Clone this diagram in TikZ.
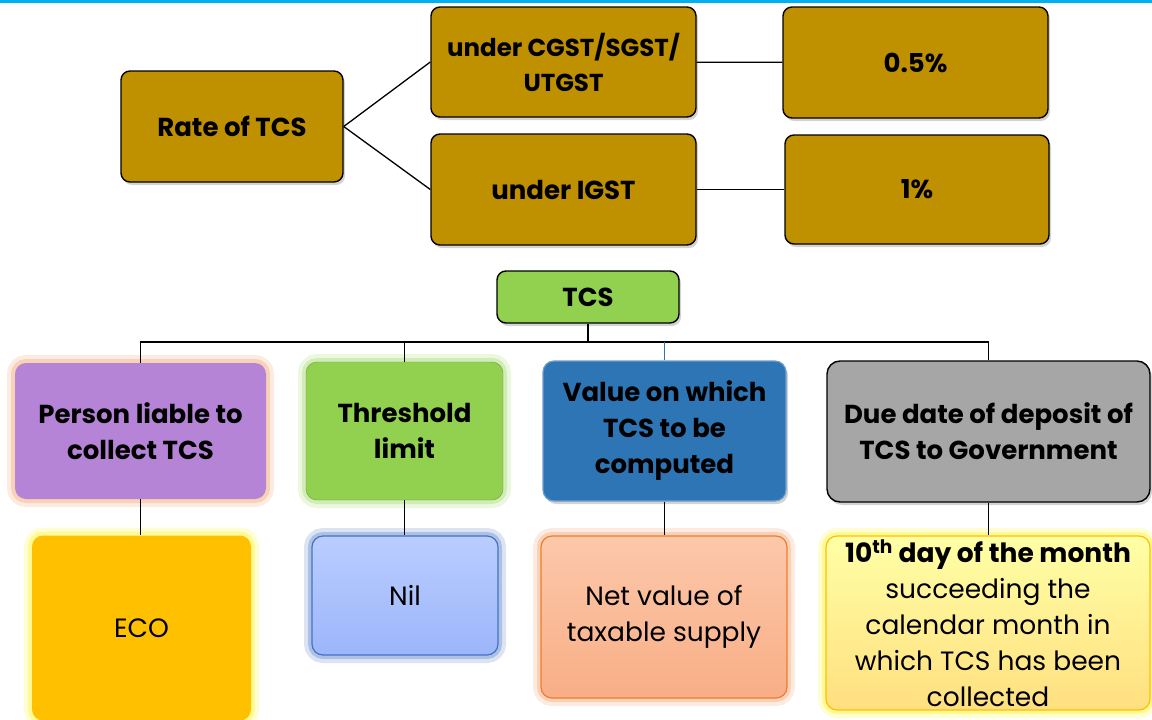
\documentclass[tikz,border=0pt]{standalone}
\usepackage{fontspec}
\setmainfont{Poppins}[BoldFont={Poppins Bold}]
\usepackage{tikz}
\usetikzlibrary{positioning,calc,shadows}
\definecolor{topline}{HTML}{00B0F0}
\definecolor{gold}{HTML}{BF9000}
\definecolor{leafgreen}{HTML}{92D050}
\definecolor{lilac}{HTML}{B584D6}
\definecolor{steelblue}{HTML}{2E75B6}
\definecolor{midgray}{HTML}{A6A6A6}
\definecolor{amber}{HTML}{FFC000}
\definecolor{peach}{HTML}{ED7D31}
\definecolor{cornblue}{HTML}{4472C4}
\definecolor{niltop}{HTML}{BACDFF}
\definecolor{nilbot}{HTML}{9CB6FA}
\definecolor{nettop}{HTML}{FCC8AA}
\definecolor{netbot}{HTML}{F8AE86}

\begin{document}
\begin{tikzpicture}[x=1pt, y=-1pt,
    hbox/.style={draw, rounded corners=9pt, align=center, line width=1.4pt, inner sep=2pt,
                 font=\fontsize{26}{35}\selectfont\bfseries,
                 drop shadow={opacity=.35, shadow xshift=2pt, shadow yshift=-3pt}},
    sbox/.style={rounded corners=11pt, align=center, inner sep=2pt,
                 font=\fontsize{26.5}{36}\selectfont},
    glow/.style={preaction={draw=#1, line width=16pt, draw opacity=.25},
                 preaction={draw=#1, line width=8pt, draw opacity=.45}},
    line/.style={draw, line width=1.3pt}
]
\useasboundingbox (0,0) rectangle (1152,720);
\fill[topline] (0,0) rectangle (1152,3);

% rate of TCS
\node[hbox, fill=gold, minimum width=222pt, minimum height=111pt] (rate) at (232,126.5) {Rate of TCS};
\node[hbox, fill=gold, font=\fontsize{24.5}{35}\selectfont\bfseries,
      minimum width=265pt, minimum height=110pt] (cgst) at (563.5,62) {under CGST/SGST/\\UTGST};
\node[hbox, fill=gold, minimum width=265pt, minimum height=111pt] (igst) at (563.5,189.5) {under IGST};
\node[hbox, fill=gold, minimum width=265pt, minimum height=111pt] (half) at (915.5,62.5) {0.5\%};
\node[hbox, fill=gold, minimum width=264pt, minimum height=109pt] (one)  at (917,189.5) {1\%};
\draw[line] (rate.east) -- (cgst.west);
\draw[line] (rate.east) -- (igst.west);
\draw[line] (cgst) -- (half);
\draw[line] (igst) -- (one);

% TCS tree
\node[hbox, fill=leafgreen, minimum width=182pt, minimum height=52pt] (tcs) at (588,297) {TCS};
\coordinate (bus) at (588,342);

\node[sbox, font=\fontsize{26}{36}\selectfont\bfseries, fill=lilac, glow=peach!60,
      minimum width=251pt, minimum height=136pt] (person) at (140.5,431) {Person liable to\\collect TCS};
\node[sbox, font=\fontsize{26}{36}\selectfont\bfseries, fill=leafgreen, draw=leafgreen!75!black, glow=leafgreen!70,
      minimum width=197pt, minimum height=138pt] (thresh) at (404.5,431) {Threshold\\limit};
\node[sbox, font=\fontsize{26}{36}\selectfont\bfseries, fill=steelblue, draw=steelblue!70!white, line width=1.2pt,
      drop shadow={opacity=.35, shadow xshift=2pt, shadow yshift=-3pt},
      minimum width=243pt, minimum height=140pt] (value) at (664.5,431) {Value on which\\TCS to be\\computed};
\node[hbox, fill=midgray, rounded corners=13pt, font=\fontsize{26}{36}\selectfont\bfseries,
      minimum width=323pt, minimum height=141pt] (due) at (988.5,431.5) {Due date of deposit of\\TCS to Government};

\draw[line] (tcs.south) -- (bus);
\draw[line] (person.north) |- (bus) -| (due.north);
\draw[line] (thresh.north) -- (thresh.north |- bus);
\draw[line, draw=steelblue] (value.north) -- (value.north |- bus);

\node[sbox, fill=amber, glow=yellow!70, minimum width=219pt, minimum height=185pt] (eco) at (141.5,628) {ECO};
\node[sbox, top color=niltop, bottom color=nilbot, draw=cornblue, line width=1.2pt, glow=cornblue!75,
      minimum width=186pt, minimum height=119pt] (nil) at (405,595.5) {Nil};
\node[sbox, top color=nettop, bottom color=netbot, draw=peach, line width=1.2pt, glow=peach!60,
      minimum width=246pt, minimum height=162pt] (net) at (664,617) {Net value of\\taxable supply};
\node[sbox, top color=yellow!35, bottom color=amber!50, draw=amber, line width=1.2pt, glow=yellow!70,
      minimum width=324pt, minimum height=174pt] (tenth) at (988,623)
      {\textbf{10\textsuperscript{th} day of the month}\\succeeding the\\calendar month in\\which TCS has been\\collected};

\draw[line] (person.south) -- (person.south |- eco.north);
\draw[line] (thresh.south) -- (thresh.south |- nil.north);
\draw[line] (value.south) -- (value.south |- net.north);
\draw[line] (due.south) -- (due.south |- tenth.north);
\end{tikzpicture}
\end{document}
